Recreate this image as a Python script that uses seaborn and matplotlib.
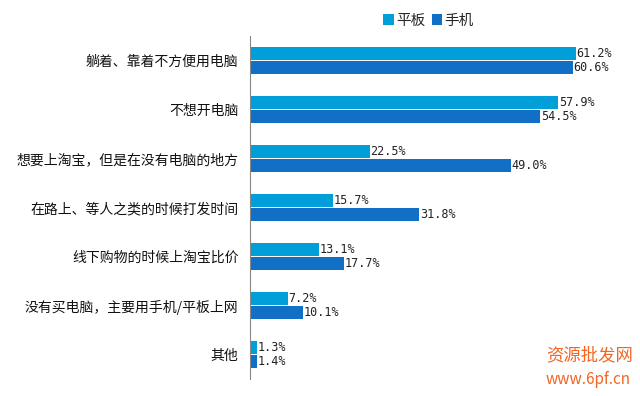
import seaborn as sns
import matplotlib.pyplot as plt
import pandas as pd

# categories and values
reasons = ["躺着、靠着不方便用电脑", "不想开电脑", "想要上淘宝，但是在没有电脑的地方",
           "在路上、等人之类的时候打发时间", "线下购物的时候上淘宝比价",
           "没有买电脑，主要用手机/平板上网", "其他"]
tablet = [61.2, 57.9, 22.5, 15.7, 13.1, 7.2, 1.3]
phone = [60.6, 54.5, 49.0, 31.8, 17.7, 10.1, 1.4]
series = ["平板", "手机"]

rows = []
for i, r in enumerate(reasons):
    rows.append({"reason": r, "device": series[0], "pct": tablet[i]})
    rows.append({"reason": r, "device": series[1], "pct": phone[i]})
df = pd.DataFrame(rows)

sns.set_style("white")
plt.rcParams['font.family'] = ['Noto Sans CJK SC', 'DejaVu Sans']

fig = plt.figure(figsize=(6.4, 3.96), dpi=100)
ax = fig.add_axes([0.39, 0.043, 0.583, 0.866])
sns.barplot(data=df, y="reason", x="pct", hue="device", orient="h",
            palette=["#019FDA", "#1170C6"], saturation=1, width=0.6, gap=0.12,
            linewidth=0, order=reasons, hue_order=series, ax=ax)

for c in ax.containers:
    ax.bar_label(c, fmt="%.1f%%", padding=0.5, fontsize=8.5,
                 family="DejaVu Sans Mono", color="#222222")

ax.set_xlim(0, 70)
ax.set_ylim(6.5, -0.5)
ax.set_xlabel("")
ax.set_ylabel("")
ax.set_xticks([])
ax.tick_params(axis="y", length=0, labelsize=10, pad=8, labelcolor="#111111")
for s in ["top", "right", "bottom"]:
    ax.spines[s].set_visible(False)
ax.spines["left"].set_color("#888888")

ax.legend(loc="center", bbox_to_anchor=(0.48, 1.045), ncol=2, frameon=False,
          fontsize=10.5, handlelength=0.7, handleheight=0.7, handletextpad=0.2,
          columnspacing=0.4)

# watermark
fig.text(0.853, 0.09, "资源批发网", color="#F26522", fontsize=12.5)
fig.text(0.853, 0.03, "www.6pf.cn", color="#F26522", fontsize=11)

plt.savefig("out.png", dpi=100)
